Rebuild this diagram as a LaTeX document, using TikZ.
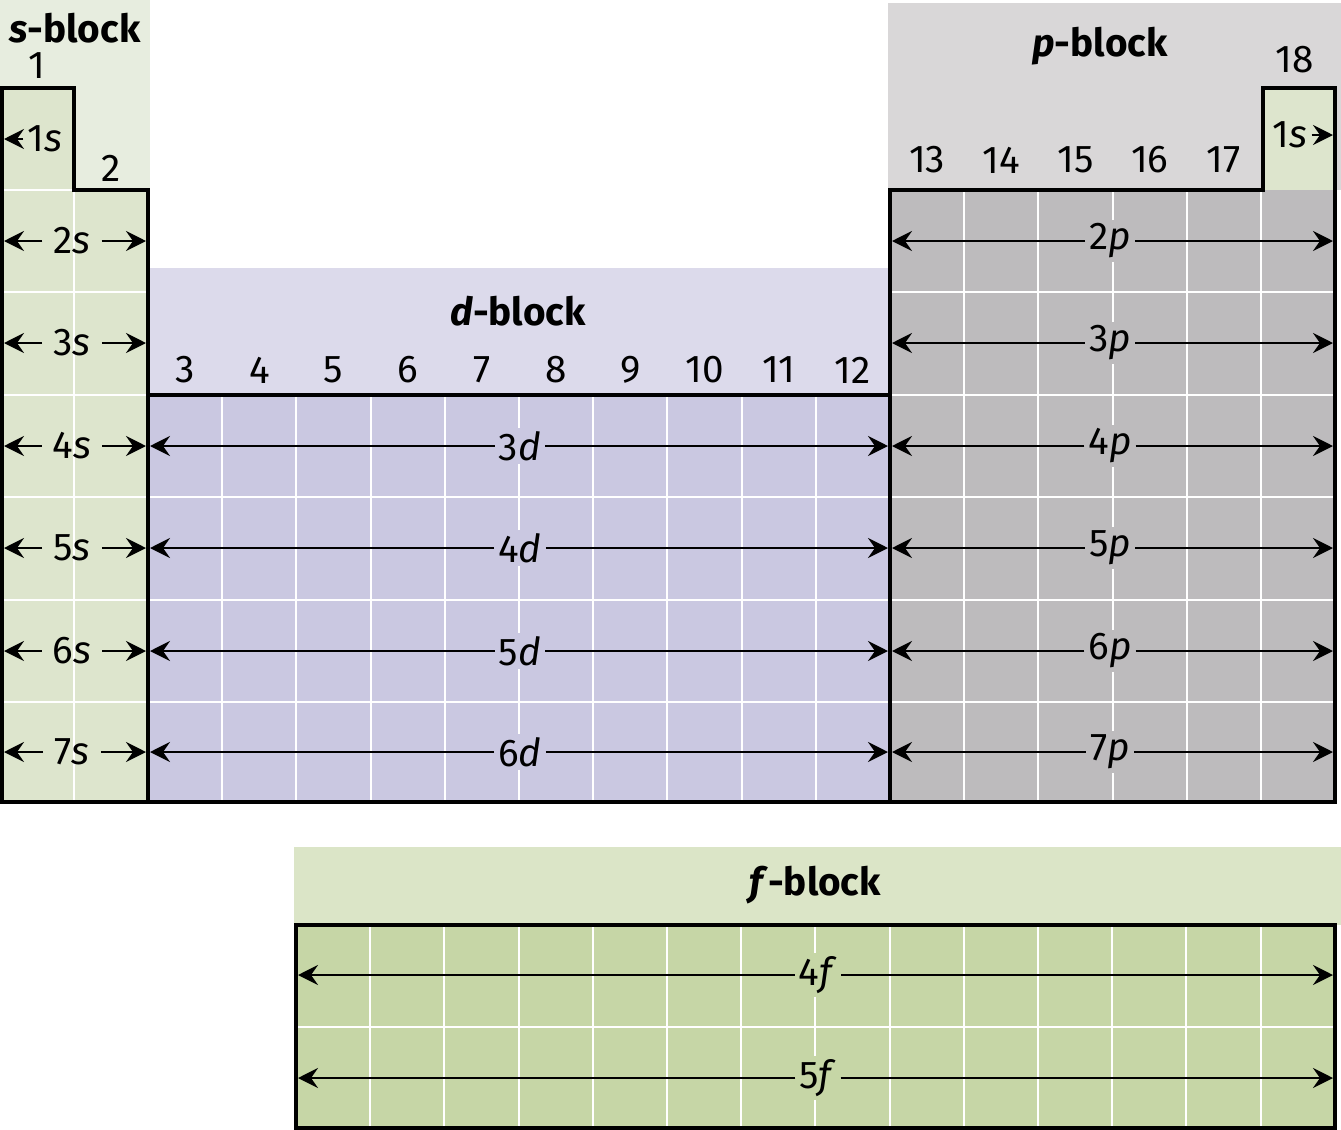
\documentclass[tikz,border=0pt]{standalone}
\usepackage{fontspec}
\setmainfont{Fira Sans}
\usetikzlibrary{arrows.meta}
\definecolor{sHead}{HTML}{E7EDDF}
\definecolor{sCell}{HTML}{DDE5CD}
\definecolor{dHead}{HTML}{DCDAEB}
\definecolor{dCell}{HTML}{CAC8E1}
\definecolor{pHead}{HTML}{D9D7D8}
\definecolor{pCell}{HTML}{BDBBBD}
\definecolor{fHead}{HTML}{DBE5C7}
\definecolor{fCell}{HTML}{C6D6A6}
\tikzset{
  lbl/.style={inner sep=3pt, font=\fontsize{11}{13}\selectfont},
  blk/.style={inner sep=2pt, font=\fontsize{11}{13}\selectfont\bfseries},
  arr/.style={line width=0.75pt, -{Stealth[length=0.2cm,width=0.2cm,inset=0.07cm]}},
  outline/.style={line width=0.9pt, draw=black},
  grid/.style={white, line width=0.6pt}
}
\begin{document}
\begin{tikzpicture}[x=0.01cm,y=-0.01cm]
    \useasboundingbox (0,0) rectangle (1341,1130);
    % Block headers
    \fill[sHead] (0,0) rectangle (150,190);
    \fill[pHead] (888,3) rectangle (1341,190);
    \fill[dHead] (148,268) rectangle (890,395);
    \fill[fHead] (294,847) rectangle (1341,925);

    % Cells
    \fill[sCell] (2,88) -- (74,88) -- (74,190) -- (148,190) -- (148,802) -- (2,802) -- cycle;
    \fill[sCell] (1263,88) rectangle (1335,190);
    \fill[dCell] (148,395) rectangle (890,802);
    \fill[pCell] (890,190) rectangle (1335,802);
    \fill[fCell] (296,925) rectangle (1335,1128);

    % White grid lines
    \draw[grid] (74,190) -- (74,802);
    \foreach \i in {1,...,9} \draw[grid] ({148+74.2*\i},395) -- ({148+74.2*\i},802);
    \foreach \i in {1,...,5} \draw[grid] ({890+74.2*\i},190) -- ({890+74.2*\i},802);
    \foreach \y in {292,395,497,600,702} {
      \draw[grid] (2,\y) -- (148,\y);
      \draw[grid] (890,\y) -- (1335,\y);
    }
    \foreach \y in {497,600,702} \draw[grid] (148,\y) -- (890,\y);
    \draw[grid] (2,190) -- (74,190);
    \foreach \i in {1,...,13} \draw[grid] ({296+74.2*\i},925) -- ({296+74.2*\i},1128);
    \draw[grid] (296,1027) -- (1335,1027);

    % Outlines
    \draw[outline] (2,802) -- (2,88) -- (74,88) -- (74,190) -- (148,190) -- (148,802) -- cycle;
    \draw[outline] (148,395) rectangle (890,802);
    \draw[outline] (890,802) -- (890,190) -- (1263,190) -- (1263,88) -- (1335,88) -- (1335,802) -- cycle;
    \draw[outline] (296,925) rectangle (1335,1128);

    % Block names
    \node[blk] (sblk) at (75,28) {\textit{s}-block};
    \node[blk] (pblk) at (1100,46) {\textit{p}-block};
    \node[blk] (dblk) at (518,311) {\textit{d}-block};
    \node[blk] (fblk) at (815,885) {\textit{f}-block};

    % Group numbers
    \node[lbl] (g1) at (37,66) {1};
    \node[lbl] (g2) at (111,168) {2};
    \foreach \g [count=\i] in {3,...,12}
      \node[lbl] (g\g) at ({148+74.2*(\i-0.5)},370) {\g};
    \foreach \g [count=\i] in {13,...,17}
      \node[lbl] (g\g) at ({890+74.2*(\i-0.5)},160) {\g};
    \node[lbl] (g18) at (1295,60) {18};

    % Subshell arrows
    \node[lbl, inner sep=1pt] (s1) at (45,139) {1\textit{s}};
    \coordinate (s1w) at (4,139);
    \draw[arr] (s1) -- (s1w);
    \node[lbl, inner sep=1pt] (h1) at (1290,135) {1\textit{s}};
    \coordinate (h1e) at (1333,135);
    \draw[arr] (h1) -- (h1e);

    \foreach \n/\y in {2/241,3/343,4/446,5/548,6/651,7/752} {
      \node[lbl] (s\n) at (72,\y) {\n\textit{s}};
      \coordinate (s\n w) at (4,\y);
      \coordinate (s\n e) at (146,\y);
      \draw[arr] (s\n) -- (s\n w);
      \draw[arr] (s\n) -- (s\n e);
      \node[lbl, fill=pCell, inner sep=1pt] (p\n) at (1110,\y) {\n\textit{p}};
      \coordinate (p\n w) at (892,\y);
      \coordinate (p\n e) at (1333,\y);
      \draw[arr] (p\n) -- (p\n w);
      \draw[arr] (p\n) -- (p\n e);
    }
    \foreach \n/\y in {3/446,4/548,5/651,6/752} {
      \node[lbl, fill=dCell, inner sep=1pt] (d\n) at (520,\y) {\n\textit{d}};
      \coordinate (d\n w) at (150,\y);
      \coordinate (d\n e) at (888,\y);
      \draw[arr] (d\n) -- (d\n w);
      \draw[arr] (d\n) -- (d\n e);
    }
    \foreach \n/\y in {4/975,5/1078} {
      \node[lbl, fill=fCell, inner sep=1pt] (f\n) at (818,\y) {\n\textit{f}};
      \coordinate (f\n w) at (298,\y);
      \coordinate (f\n e) at (1333,\y);
      \draw[arr] (f\n) -- (f\n w);
      \draw[arr] (f\n) -- (f\n e);
    }
\end{tikzpicture}
\end{document}
